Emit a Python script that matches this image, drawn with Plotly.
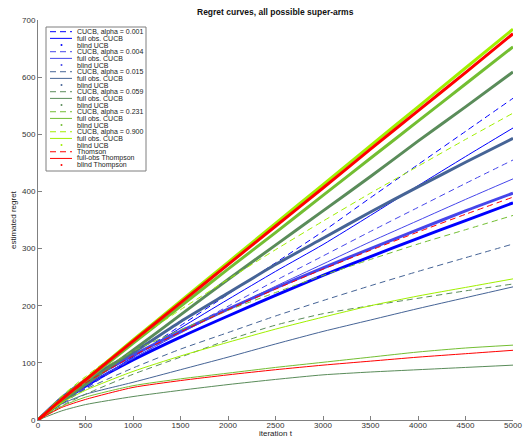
import plotly.graph_objects as go

# ---------------- data ----------------
t = [0, 250, 500, 1000, 1500, 2000, 2500, 3000, 3500, 4000, 4500, 5000]

alphas = ["0.001", "0.004", "0.015", "0.059", "0.231", "0.900"]

# CUCB (dashed)
cucb_0001 = [0, 28, 55, 110, 165, 220, 275, 330, 389, 447, 505, 563]
cucb_0004 = [0, 31, 57, 107, 154, 199, 244, 287, 330, 372, 414, 455]
cucb_0015 = [0, 32, 54, 91, 124, 153, 182, 209, 235, 260, 284, 308]
cucb_0059 = [0, 25, 45, 80, 110, 140, 166, 186, 200, 213, 226, 238]
cucb_0231 = [0, 40, 72, 120, 158, 192, 223, 253, 281, 308, 333, 358]
cucb_0900 = [0, 42, 76, 137, 193, 246, 298, 348, 397, 444, 491, 537]

# full observation CUCB (thin solid)
full_0001 = [0, 30, 57, 110, 161, 211, 260, 307, 358, 410, 461, 511]
full_0004 = [0, 33, 60, 108, 152, 194, 234, 273, 312, 349, 386, 422]
full_0015 = [0, 28, 45, 66, 88, 110, 133, 155, 175, 195, 214, 233]
full_0059 = [0, 16, 27, 41, 52, 62, 71, 79, 84, 88, 92, 96]
full_0231 = [0, 24, 40, 60, 72, 82, 92, 101, 110, 119, 126, 131]
full_0900 = [0, 30, 52, 85, 112, 136, 159, 180, 200, 217, 232, 247]

# blind UCB (thick)
blind_0001 = [0, 35, 60, 105, 145, 182, 218, 253, 286, 318, 349, 380]
blind_0004 = [0, 38, 66, 113, 155, 194, 231, 266, 300, 333, 366, 397]
blind_0015 = [0, 39, 70, 118, 172, 222, 272, 318, 364, 408, 451, 493]
blind_0059 = [0, 32, 62, 122, 184, 246, 306, 366, 426, 488, 548, 609]
blind_0231 = [0, 35, 68, 134, 199, 264, 328, 393, 458, 523, 588, 653]
blind_0900 = [0, 36, 71, 140, 208, 276, 344, 412, 480, 548, 616, 684]

# Thompson
thomson_cucb = [0, 38, 65, 112, 154, 193, 229, 264, 297, 329, 360, 390]
thompson_full = [0, 22, 36, 57, 69, 79, 88, 96, 103, 110, 116, 122]
thompson_blind = [0, 36, 70, 138, 205, 272, 339, 406, 474, 541, 608, 676]

x_ticks = [0, 500, 1000, 1500, 2000, 2500, 3000, 3500, 4000, 4500, 5000]
y_ticks = [0, 100, 200, 300, 400, 500, 600, 700]

colors = ["rgb(0,0,255)", "rgb(70,70,235)", "rgb(70,100,150)",
          "rgb(90,140,90)", "rgb(115,190,50)", "rgb(160,240,0)"]
red = "rgb(255,0,0)"

cucb = [cucb_0001, cucb_0004, cucb_0015, cucb_0059, cucb_0231, cucb_0900]
full = [full_0001, full_0004, full_0015, full_0059, full_0231, full_0900]
blind = [blind_0001, blind_0004, blind_0015, blind_0059, blind_0231, blind_0900]

series = []
for a, c, yc, yf, yb in zip(alphas, colors, cucb, full, blind):
    series.append((f"CUCB, alpha = {a}", yc, c, "dash"))
    series.append(("full obs. CUCB", yf, c, "thin"))
    series.append(("blind UCB", yb, c, "thick"))
series.append(("Thomson", thomson_cucb, red, "dash"))
series.append(("full-obs Thompson", thompson_full, red, "thin"))
series.append(("blind Thompson", thompson_blind, red, "thick"))

fig = go.Figure()
for name, y, c, style in series:
    if style == "dash":
        line = dict(color=c, width=1, dash="6px,4px")
    elif style == "thin":
        line = dict(color=c, width=1)
    else:
        line = dict(color=c, width=3)
    line["shape"] = "spline"
    line["smoothing"] = 0.6
    fig.add_trace(go.Scatter(x=t, y=y, mode="lines", name=name, line=line,
                             showlegend=False, hoverinfo="skip"))

# ---------------- layout ----------------
W, H = 523, 438
PL, PT, PR, PB = 38, 20, 513, 420  # plot area in pixels
pw, ph = PR - PL, PB - PT

def px2paper(px, py):
    return (px - PL) / pw, (PB - py) / ph

shapes = []
annotations = []
FONT = "Liberation Sans, Arial, Helvetica"

# compact legend (MATLAB-like)
x0, y0 = px2paper(46, 27)
x1, y1 = px2paper(146, 171)
shapes.append(dict(type="rect", xref="paper", yref="paper", x0=x0, y0=y1, x1=x1, y1=y0,
                   line=dict(color="#7f7f7f", width=1), fillcolor="white", layer="above"))
row0, step = 31.7, 6.67
for i, (name, y, c, style) in enumerate(series):
    py = row0 + i * step
    lx0, ly = px2paper(50, py)
    lx1, _ = px2paper(72, py)
    if style == "dash":
        shapes.append(dict(type="line", xref="paper", yref="paper", x0=lx0, x1=lx1, y0=ly, y1=ly,
                           line=dict(color=c, width=1, dash="6px,4px"), layer="above"))
    elif style == "thin":
        shapes.append(dict(type="line", xref="paper", yref="paper", x0=lx0, x1=lx1, y0=ly, y1=ly,
                           line=dict(color=c, width=1), layer="above"))
    else:
        cx0, cy0 = px2paper(60.5, py - 1)
        cx1, cy1 = px2paper(62.5, py + 1)
        shapes.append(dict(type="circle", xref="paper", yref="paper", x0=cx0, x1=cx1, y0=cy1, y1=cy0,
                           line=dict(color=c, width=0), fillcolor=c, layer="above"))
    tx, ty = px2paper(76, py)
    annotations.append(dict(text=name, xref="paper", yref="paper", x=tx, y=ty,
                            xanchor="left", yanchor="middle", showarrow=False,
                            font=dict(size=7, color="#222", family=FONT), borderpad=0))

ax, ay = px2paper(275.5, 433.5)
annotations.append(dict(text="iteration t", xref="paper", yref="paper", x=ax, y=ay,
                        xanchor="center", yanchor="middle", showarrow=False, borderpad=0,
                        font=dict(size=8, color="#222", family=FONT)))
bx, by = px2paper(13, 220)
annotations.append(dict(text="estimated regret", xref="paper", yref="paper", x=bx, y=by,
                        xanchor="center", yanchor="middle", showarrow=False, textangle=-90,
                        font=dict(size=8, color="#222", family=FONT)))
tx_, ty_ = px2paper(275.5, 12)
annotations.append(dict(text="<b>Regret curves, all possible super-arms</b>", xref="paper", yref="paper",
                        x=tx_, y=ty_, xanchor="center", yanchor="middle", showarrow=False,
                        font=dict(size=8.5, color="#111", family=FONT)))

axis_common = dict(showgrid=False, zeroline=False, showline=True, linecolor="#808080",
                   linewidth=1, ticks="inside", ticklen=4, tickcolor="#808080", automargin=False,
                   tickfont=dict(size=8, color="#333", family=FONT))

fig.update_layout(
    width=W, height=H,
    margin=dict(l=PL, r=W - PR, t=PT, b=H - PB, pad=0, autoexpand=False),
    paper_bgcolor="white", plot_bgcolor="white",
    showlegend=False,
    xaxis=dict(range=[0, 5000], tickvals=x_ticks, ticktext=[str(v) for v in x_ticks],
               ticklabelstandoff=-3, **axis_common),
    yaxis=dict(range=[0, 700], tickvals=y_ticks, ticktext=[str(v) for v in y_ticks], **axis_common),
    shapes=shapes, annotations=annotations,
)

# remove the default page margin so the 523x438 figure fills the window exactly
fig.write_html("out.html", config={"displayModeBar": False},
               post_script="document.body.style.margin='0';document.body.style.overflow='hidden';")
